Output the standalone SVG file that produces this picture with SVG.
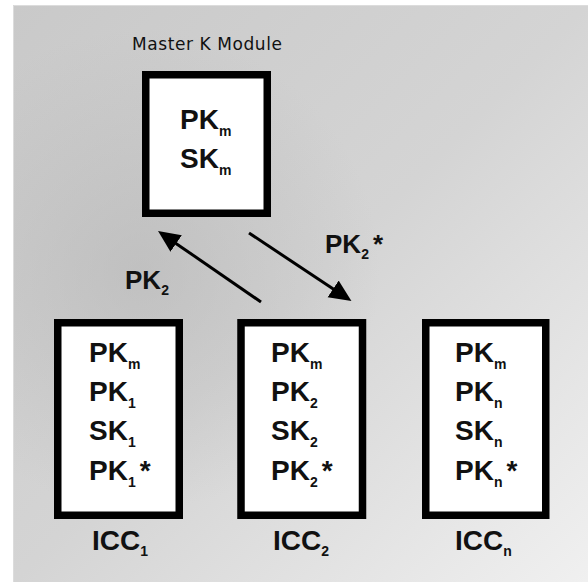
<svg xmlns="http://www.w3.org/2000/svg" width="588" height="582" viewBox="0 0 588 582">
  <defs>
    <linearGradient id="bgLinear" x1="0" y1="0" x2="1" y2="1">
      <stop offset="0" stop-color="#c9c9c9"/>
      <stop offset="0.5" stop-color="#d4d4d4"/>
      <stop offset="1" stop-color="#f0f0f0"/>
    </linearGradient>
    <radialGradient id="bgShade" cx="140" cy="270" r="240" gradientUnits="userSpaceOnUse">
      <stop offset="0" stop-color="#b0b0b0" stop-opacity="0.5"/>
      <stop offset="1" stop-color="#b0b0b0" stop-opacity="0"/>
    </radialGradient>
    <marker id="head" markerUnits="userSpaceOnUse" markerWidth="24" markerHeight="22" refX="2" refY="10" orient="auto">
      <path d="M0,0 L22,10 L0,20 z" fill="#000"/>
    </marker>
    <style>
      .box { fill: #ffffff; stroke: #000000; stroke-width: 7.5; }
      .key { font-family: "Liberation Sans", Arial, sans-serif; font-weight: bold; font-size: 28px; fill: #111; }
      .lbl { font-family: "Liberation Sans", Arial, sans-serif; font-weight: bold; font-size: 26px; fill: #111; }
      .sub { font-size: 14px; }
      .title { font-family: "DejaVu Sans", sans-serif; font-size: 17px; fill: #111; }
      .arrow { stroke: #000; stroke-width: 3; fill: none; marker-end: url(#head); }
    </style>
  </defs>

  <!-- page background -->
  <rect x="0" y="0" width="588" height="582" fill="#ffffff"/>
  <rect x="13" y="5" width="575" height="577" fill="url(#bgLinear)"/>
  <rect x="13" y="5" width="575" height="577" fill="url(#bgShade)"/>
  <path d="M13.5,582 V5.5 H588" fill="none" stroke="#dcdcdc" stroke-width="1"/>

  <!-- master module -->
  <g id="master">
    <text class="title" x="132" y="50" textLength="150" lengthAdjust="spacing">Master K Module</text>
    <rect class="box" x="145.75" y="74.75" width="121.5" height="138.5"/>
    <text class="key" x="180" y="129">PK<tspan class="sub" dy="6.5">m</tspan></text>
    <text class="key" x="180" y="168">SK<tspan class="sub" dy="6.5">m</tspan></text>
  </g>

  <!-- card 1 -->
  <g id="icc1">
    <rect class="box" x="57.75" y="322.75" width="121.5" height="192.5"/>
    <text class="key" x="89" y="362">PK<tspan class="sub" dy="6.5">m</tspan></text>
    <text class="key" x="89" y="401">PK<tspan class="sub" dy="6.5">1</tspan></text>
    <text class="key" x="89" y="440">SK<tspan class="sub" dy="6.5">1</tspan></text>
    <text class="key" x="89" y="480">PK<tspan class="sub" dy="6.5">1</tspan><tspan dx="4" dy="-6.5">*</tspan></text>
    <text class="key" x="92" y="550">ICC<tspan class="sub" dy="6">1</tspan></text>
  </g>

  <!-- card 2 -->
  <g id="icc2">
    <rect class="box" x="241" y="322.75" width="121.5" height="192.5"/>
    <text class="key" x="271" y="362">PK<tspan class="sub" dy="6.5">m</tspan></text>
    <text class="key" x="271" y="401">PK<tspan class="sub" dy="6.5">2</tspan></text>
    <text class="key" x="271" y="440">SK<tspan class="sub" dy="6.5">2</tspan></text>
    <text class="key" x="271" y="480">PK<tspan class="sub" dy="6.5">2</tspan><tspan dx="4" dy="-6.5">*</tspan></text>
    <text class="key" x="273" y="550">ICC<tspan class="sub" dy="6">2</tspan></text>
  </g>

  <!-- card n -->
  <g id="iccn">
    <rect class="box" x="425.75" y="322.75" width="120" height="192.5"/>
    <text class="key" x="455" y="362">PK<tspan class="sub" dy="6.5">m</tspan></text>
    <text class="key" x="455" y="401">PK<tspan class="sub" dy="6.5">n</tspan></text>
    <text class="key" x="455" y="440">SK<tspan class="sub" dy="6.5">n</tspan></text>
    <text class="key" x="455" y="480">PK<tspan class="sub" dy="6.5">n</tspan><tspan dx="4" dy="-6.5">*</tspan></text>
    <text class="key" x="455" y="550">ICC<tspan class="sub" dy="6">n</tspan></text>
  </g>

  <!-- key exchange connectors -->
  <g id="connectors">
    <line class="arrow" x1="261" y1="302" x2="174.5" y2="242.4"/>
    <line class="arrow" x1="249" y1="233" x2="334.8" y2="290"/>
    <text class="lbl" x="125" y="289">PK<tspan class="sub" dy="6">2</tspan></text>
    <text class="lbl" x="325" y="253">PK<tspan class="sub" dy="6">2</tspan><tspan dx="4" dy="-6">*</tspan></text>
  </g>
</svg>
